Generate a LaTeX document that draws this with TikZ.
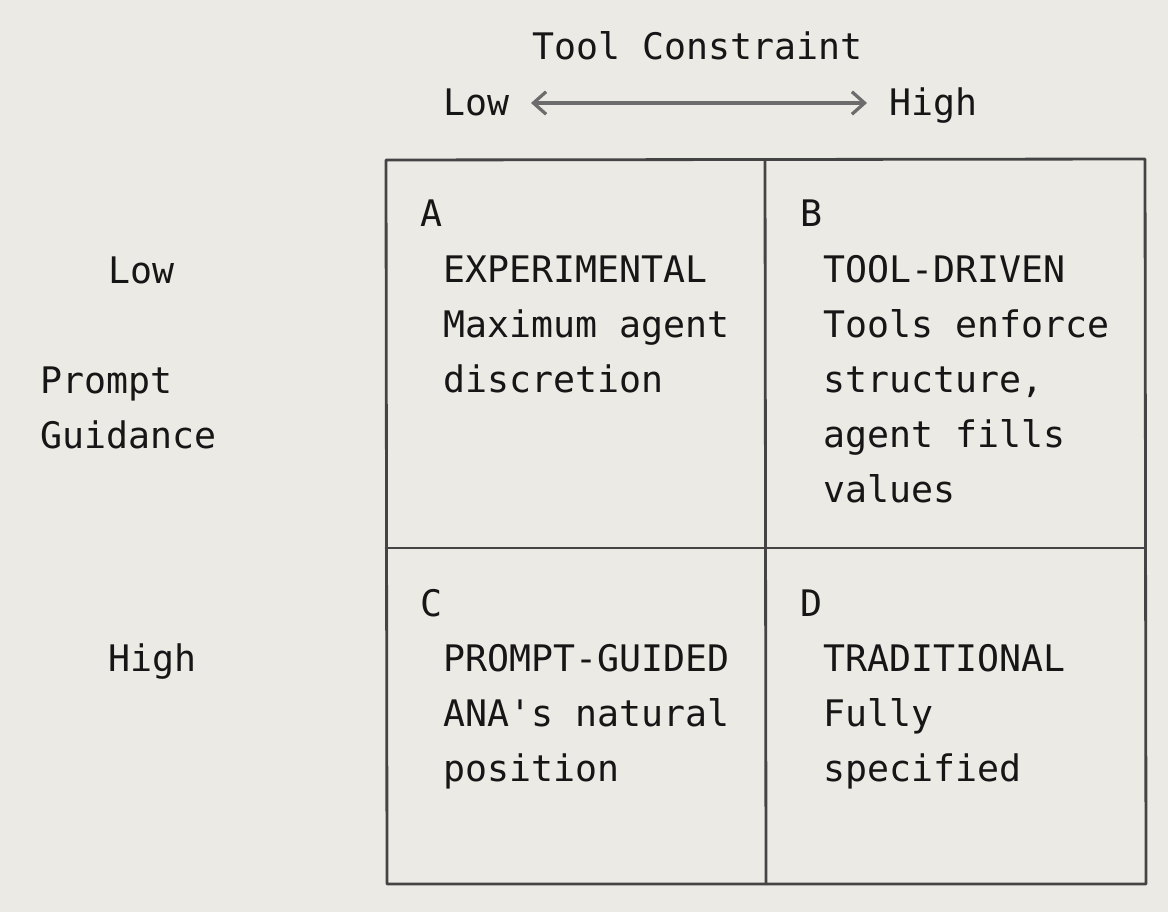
\documentclass[tikz,border=0pt]{standalone}
\usepackage{fontspec}
\setmonofont{DejaVu Sans Mono}
\usetikzlibrary{arrows.meta}
\definecolor{paper}{RGB}{236,234,229}
\definecolor{pencil}{RGB}{68,68,68}
\definecolor{ink}{RGB}{22,22,22}

\begin{document}
\begin{tikzpicture}[
    x=0.025cm, y=-0.025cm,
    lbl/.style={anchor=base west, inner sep=0pt, text=ink,
      font=\ttfamily\fontsize{26pt}{39pt}\selectfont},
    gridline/.style={draw=pencil, line width=2pt, line cap=round, line join=round},
    axisarrow/.style={draw=gray!85!black, line width=2.3pt,
      {Straight Barb[length=9pt,width=16pt]}-{Straight Barb[length=9pt,width=16pt]}}
    ]

    \fill[paper] (0,0) rectangle (1168,912);
    \useasboundingbox (0,0) rectangle (1168,912);

    % axis labels
    \node[lbl] (tool) at (532,60) {Tool Constraint};
    \node[lbl] (tlow) at (443,116) {Low};
    \node[lbl] (thigh) at (889,116) {High};
    \coordinate (al) at (531,103);
    \coordinate (ar) at (867,103);
    \draw[axisarrow] (al) -- (ar);

    \node[lbl] (plow) at (108,283) {Low};
    \node[lbl] (prompt) at (40,393) {Prompt};
    \node[lbl] (guidance) at (40,448) {Guidance};
    \node[lbl] (phigh) at (108,671) {High};

    % grid
    \coordinate (nw) at (386,160);
    \coordinate (ne) at (1145,159);
    \coordinate (se) at (1146,884);
    \coordinate (sw) at (387,884);
    \draw[gridline] (nw) -- (ne) -- (se) -- (sw) -- cycle;
    \coordinate (nm) at (765,160);
    \coordinate (sm) at (766,884);
    \coordinate (wm) at (386,548);
    \coordinate (em) at (1145,548);
    \draw[gridline] (nm) -- (sm);
    \draw[gridline] (wm) -- (em);

    % quadrants
    \node[lbl] (qa) at (420,227) {A};
    \foreach \txt [count=\i from 0] in {EXPERIMENTAL, Maximum agent, discretion}
      \node[lbl] (ta\i) at (443,282+55*\i) {\txt};
    \node[lbl] (qb) at (800,227) {B};
    \foreach \txt [count=\i from 0] in {TOOL-DRIVEN, Tools enforce, {structure,}, agent fills, values}
      \node[lbl] (tb\i) at (823,282+55*\i) {\txt};
    \node[lbl] (qc) at (420,616) {C};
    \foreach \txt [count=\i from 0] in {PROMPT-GUIDED, ANA's natural, position}
      \node[lbl] (tc\i) at (443,671+55*\i) {\txt};
    \node[lbl] (qd) at (800,616) {D};
    \foreach \txt [count=\i from 0] in {TRADITIONAL, Fully, specified}
      \node[lbl] (td\i) at (823,671+55*\i) {\txt};

  \end{tikzpicture}
\end{document}
